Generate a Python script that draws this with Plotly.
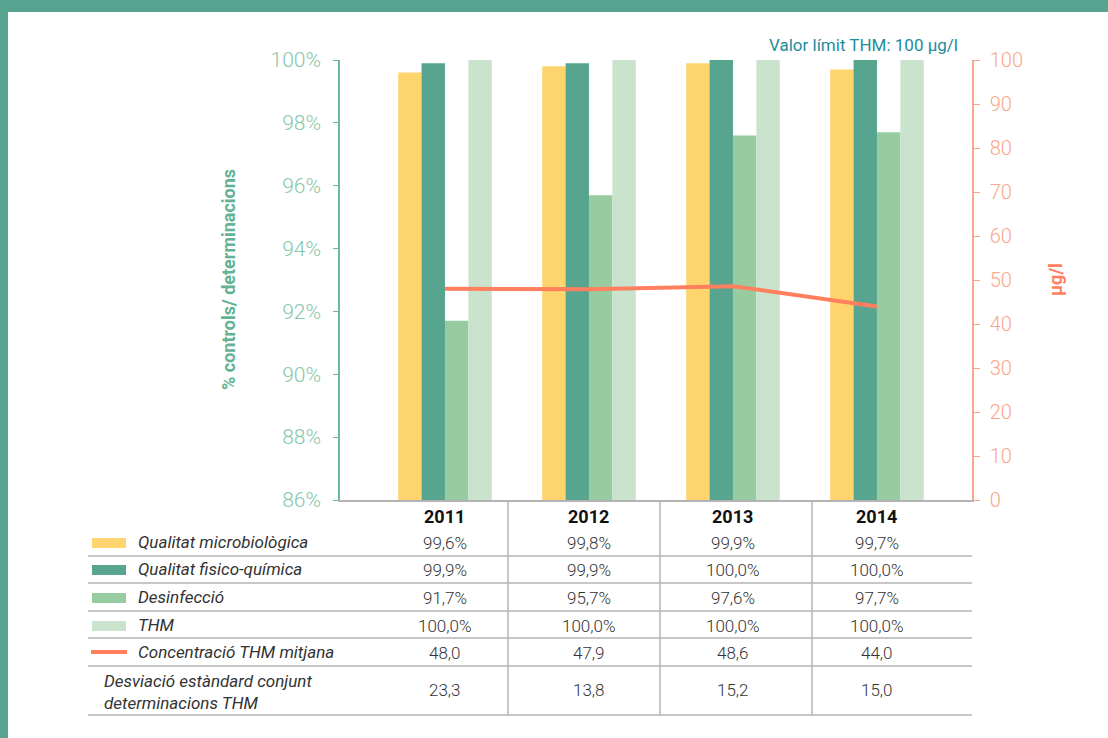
import plotly.graph_objects as go

# ---------------- data ----------------
years = ["2011", "2012", "2013", "2014"]
qual_micro = [99.6, 99.8, 99.9, 99.7]
qual_fq = [99.9, 99.9, 100.0, 100.0]
desinfeccio = [91.7, 95.7, 97.6, 97.7]
thm = [100.0, 100.0, 100.0, 100.0]
conc_thm = [48.0, 47.9, 48.6, 44.0]
desv_thm = [23.3, 13.8, 15.2, 15.0]
thm_limit = 100

series_names = ["Qualitat microbiològica", "Qualitat fisico-química", "Desinfecció", "THM"]
line_name = "Concentració THM mitjana"
desv_name = "Desviació estàndard conjunt<br>determinacions THM"
left_ticks = [86, 88, 90, 92, 94, 96, 98, 100]
left_tick_text = [f"{v}%" for v in left_ticks]
right_ticks = [0, 10, 20, 30, 40, 50, 60, 70, 80, 90, 100]

# ---------------- style ----------------
W, H = 1108, 738
PL, PR, PT, PB = 340, 972, 60, 500
C_YEL = "#FED46E"
C_DG = "#57A48F"
C_G = "#96CC9F"
C_PALE = "#CAE3CD"
C_LINE = "#FF7F5E"
C_BORDER = "#56A48F"
C_LTICK = "#86C6A9"
C_LAXIS = "#6DB89A"
C_RTICK = "#F9A68C"
C_LIMIT = "#1E8C9C"
C_GRID = "#B4B4B4"
TXT = "#333333"
FONT = "Roboto"


def px_x(p):
    return (p - PL) / (PR - PL)


def px_y(p):
    return (PB - p) / (PB - PT)


def fmt(v, pct=False):
    s = f"{v:.1f}".replace(".", ",")
    return s + ("%" if pct else "")


fig = go.Figure()
bar_colors = [C_YEL, C_DG, C_G, C_PALE]
bar_data = [qual_micro, qual_fq, desinfeccio, thm]
for name, vals, col in zip(series_names, bar_data, bar_colors):
    fig.add_trace(go.Bar(x=years, y=vals, name=name, marker=dict(color=col, line=dict(width=0)),
                         yaxis="y", showlegend=False))

fig.add_trace(go.Scatter(x=years, y=conc_thm, name=line_name, mode="lines",
                         line=dict(color=C_LINE, width=4), yaxis="y2", showlegend=False))

shapes = []
annotations = []

# border
shapes.append(dict(type="rect", xref="paper", yref="paper", x0=px_x(0), x1=px_x(W), y0=px_y(12), y1=px_y(0),
                   fillcolor=C_BORDER, line=dict(width=0), layer="below"))
shapes.append(dict(type="rect", xref="paper", yref="paper", x0=px_x(0), x1=px_x(8), y0=px_y(H), y1=px_y(0),
                   fillcolor=C_BORDER, line=dict(width=0), layer="below"))

# limit line
shapes.append(dict(type="line", xref="paper", yref="y2", ysizemode="pixel", yanchor=thm_limit,
                   x0=px_x(334), x1=px_x(973), y0=3, y1=3,
                   line=dict(color=C_LIMIT, width=2, dash="5px,3px")))
annotations.append(dict(text=f"Valor límit THM: {thm_limit} µg/l", xref="paper", yref="paper",
                        x=px_x(960), y=px_y(45), xanchor="right", yanchor="middle", showarrow=False,
                        font=dict(family=FONT, size=17, color=C_LIMIT)))

# axis titles
annotations.append(dict(text="<b>% controls/ determinacions</b>", xref="paper", yref="paper",
                        x=px_x(228), y=px_y(280), xanchor="center", yanchor="middle", textangle=-90,
                        showarrow=False, font=dict(family=FONT, size=18, color="#62B293")))
annotations.append(dict(text="<b>µg/l</b>", xref="paper", yref="paper",
                        x=px_x(1055), y=px_y(280), xanchor="center", yanchor="middle", textangle=-90,
                        showarrow=False, font=dict(family=FONT, size=18, color=C_LINE)))

# table grid
row_lines = [556, 583, 611, 638, 666, 715]
for ry in row_lines:
    shapes.append(dict(type="line", xref="paper", yref="paper", x0=px_x(88), x1=px_x(972),
                       y0=px_y(ry), y1=px_y(ry), line=dict(color=C_GRID, width=1.5)))
for vx in [508, 660, 812]:
    shapes.append(dict(type="line", xref="paper", yref="paper", x0=px_x(vx), x1=px_x(vx),
                       y0=px_y(500), y1=px_y(715), line=dict(color=C_GRID, width=1.5)))

# header years
for i, yr in enumerate(years):
    annotations.append(dict(text=f"<b>{yr}</b>", xref="x", yref="paper", x=i, y=px_y(516),
                            xanchor="center", yanchor="middle",
                            showarrow=False, font=dict(family=FONT, size=18, color="#111111")))

row_y = [543, 570, 598, 626, 653, 690]
rows = [(qual_micro, True), (qual_fq, True), (desinfeccio, True), (thm, True), (conc_thm, False), (desv_thm, False)]
for ry, (vals, pct) in zip(row_y, rows):
    for i, v in enumerate(vals):
        annotations.append(dict(text=fmt(v, pct), xref="x", yref="paper", x=i, y=px_y(ry),
                                xanchor="center", yanchor="middle",
                                showarrow=False, font=dict(family=FONT, size=17, color=TXT, weight=300)))

# legend rows
for ry, name, col in zip(row_y[:4], series_names, bar_colors):
    shapes.append(dict(type="rect", xref="paper", yref="paper", x0=px_x(92), x1=px_x(126),
                       y0=px_y(ry + 5), y1=px_y(ry - 5), fillcolor=col, line=dict(width=0)))
    annotations.append(dict(text=f"<i>{name}</i>", xref="paper", yref="paper", x=px_x(136), y=px_y(ry - 1),
                            xanchor="left", yanchor="middle", showarrow=False,
                            font=dict(family=FONT, size=17, color=TXT)))
shapes.append(dict(type="line", xref="paper", yref="paper", x0=px_x(91), x1=px_x(127),
                   y0=px_y(652), y1=px_y(652), line=dict(color=C_LINE, width=4)))
annotations.append(dict(text=f"<i>{line_name}</i>", xref="paper", yref="paper", x=px_x(136), y=px_y(652),
                        xanchor="left", yanchor="middle", showarrow=False,
                        font=dict(family=FONT, size=17, color=TXT)))
annotations.append(dict(text=f"<i>{desv_name}</i>", xref="paper", yref="paper", x=px_x(102), y=px_y(692),
                        xanchor="left", yanchor="middle", align="left", showarrow=False,
                        font=dict(family=FONT, size=17, color=TXT)))

fig.update_layout(
    width=W, height=H,
    margin=dict(l=PL, r=W - PR, t=PT, b=H - PB, pad=0),
    paper_bgcolor="white", plot_bgcolor="white",
    barmode="group", bargap=0.35, bargroupgap=0,
    showlegend=False,
    font=dict(family=FONT),
    xaxis=dict(type="category", range=[-0.729, 3.66], showticklabels=False, ticks="",
               showline=True, linecolor=C_GRID, linewidth=2, showgrid=False, zeroline=False),
    yaxis=dict(range=[86, 100], tickvals=left_ticks, ticktext=left_tick_text, ticks="outside", ticklen=5,
               tickcolor=C_LAXIS, showline=True, linecolor=C_LAXIS, linewidth=1.5, ticklabelstandoff=8,
               tickfont=dict(family=FONT, size=21, color=C_LTICK, weight=300), showgrid=False, zeroline=False),
    yaxis2=dict(range=[0, 100], tickvals=right_ticks, overlaying="y", side="right", ticks="outside",
                ticklen=6, tickcolor=C_RTICK, showline=True, linecolor=C_RTICK, linewidth=1.5,
                ticklabelstandoff=6,
                tickfont=dict(family=FONT, size=20, color=C_RTICK, weight=300), showgrid=False, zeroline=False),
    shapes=shapes, annotations=annotations,
)

fig.write_html("out.html", config={"displayModeBar": False},
               post_script="document.body.style.margin='0';document.body.style.padding='0';")
